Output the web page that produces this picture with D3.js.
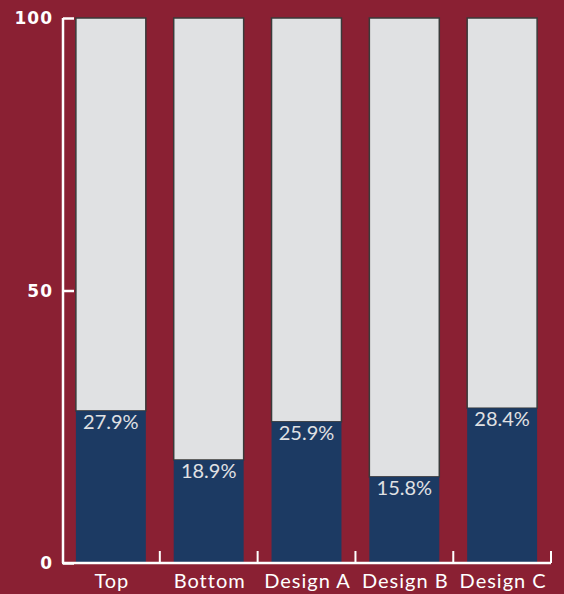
<!DOCTYPE html>
<html>
<head>
<meta charset="utf-8">
<script src="https://cdn.jsdelivr.net/npm/d3@7"></script>
<style>
  html, body { margin: 0; padding: 0; background: #8a2033; }
  svg { display: block; }
</style>
</head>
<body>
<div id="container"></div>
<script>
/* CONSTANTS AND GLOBALS */
const width = 564,
  height = 594,
  margin = {top: 18, left: 62, bottom: 31, right: 13};

/* DATA */
const categories = ["Top", "Bottom", "Design A", "Design B", "Design C"];
const values = [27.9, 18.9, 25.9, 15.8, 28.4];
const yTicks = [0, 50, 100];

const bg = "#8a2033",
  blue = "#1c3a63",
  grey = "#e0e1e3";

// SCALES
const xScale = d3.scaleBand()
  .domain(categories)
  .range([margin.left, width - margin.right])
  .paddingInner(0.285)
  .paddingOuter(0.142);

const yScale = d3.scaleLinear()
  .domain([0, 100])
  .range([height - margin.bottom, margin.top]);

// CREATE SVG ELEMENT
const svg = d3.select("#container")
  .append("svg")
  .attr("width", width)
  .attr("height", height)
  .style("background", bg);

const data = categories.map((c, i) => ({cat: c, value: values[i]}));

// grey remainder bars
svg.selectAll(".rest")
  .data(data)
  .join("rect")
  .attr("class", "rest")
  .attr("x", d => xScale(d.cat))
  .attr("width", xScale.bandwidth())
  .attr("y", yScale(100))
  .attr("height", d => yScale(d.value) - yScale(100))
  .attr("fill", grey)
  .attr("stroke", "#3a3a3a")
  .attr("stroke-width", 1.5);

// blue value bars
svg.selectAll(".val")
  .data(data)
  .join("rect")
  .attr("class", "val")
  .attr("x", d => xScale(d.cat))
  .attr("width", xScale.bandwidth())
  .attr("y", d => yScale(d.value))
  .attr("height", d => yScale(0) - yScale(d.value))
  .attr("fill", blue);

// value labels
svg.selectAll(".lbl")
  .data(data)
  .join("text")
  .attr("class", "lbl")
  .attr("x", d => xScale(d.cat) + xScale.bandwidth() / 2)
  .attr("y", d => yScale(d.value) + 18)
  .attr("text-anchor", "middle")
  .attr("fill", grey)
  .attr("font-family", "Lato, sans-serif")
  .attr("font-size", 20)
  .text(d => d.value.toFixed(1) + "%");

// AXES
const yAxis = d3.axisRight(yScale)
  .tickValues(yTicks)
  .tickSize(11)
  .tickFormat("");

svg.append("g")
  .attr("transform", `translate(${margin.left + 1},0)`)
  .call(yAxis)
  .call(g => g.select(".domain").remove())
  .call(g => g.selectAll("line").attr("stroke", "white").attr("stroke-width", 2.5));

svg.append("line")
  .attr("x1", margin.left + 1).attr("x2", margin.left + 1)
  .attr("y1", yScale(100)).attr("y2", yScale(0))
  .attr("stroke", "white").attr("stroke-width", 2.5);

svg.selectAll(".ylab")
  .data(yTicks)
  .join("text")
  .attr("class", "ylab")
  .attr("x", 53)
  .attr("y", d => yScale(d) + 6)
  .attr("text-anchor", "end")
  .attr("fill", "white")
  .attr("font-family", "'DejaVu Sans', sans-serif")
  .attr("font-weight", "bold")
  .attr("font-size", 17)
  .attr("letter-spacing", 1)
  .text(d => d);

// x axis with ticks at band edges
const step = xScale.step();
const edges = categories.map((c, i) => margin.left + i * step);
edges.push(width - margin.right);

svg.append("line")
  .attr("x1", margin.left).attr("x2", width - margin.right)
  .attr("y1", yScale(0)).attr("y2", yScale(0))
  .attr("stroke", "white").attr("stroke-width", 2.5);

svg.selectAll(".xtick")
  .data(edges.slice(1))
  .join("line")
  .attr("class", "xtick")
  .attr("x1", d => d).attr("x2", d => d)
  .attr("y1", yScale(0)).attr("y2", yScale(0) - 12)
  .attr("stroke", "white").attr("stroke-width", 2);

svg.selectAll(".xlab")
  .data(categories)
  .join("text")
  .attr("class", "xlab")
  .attr("x", d => xScale(d) + xScale.bandwidth() / 2 + 1)
  .attr("y", 588)
  .attr("text-anchor", "middle")
  .attr("fill", "white")
  .attr("font-family", "Lato, sans-serif")
  .attr("font-size", 20)
  .attr("letter-spacing", 1)
  .text(d => d);
</script>
</body>
</html>
